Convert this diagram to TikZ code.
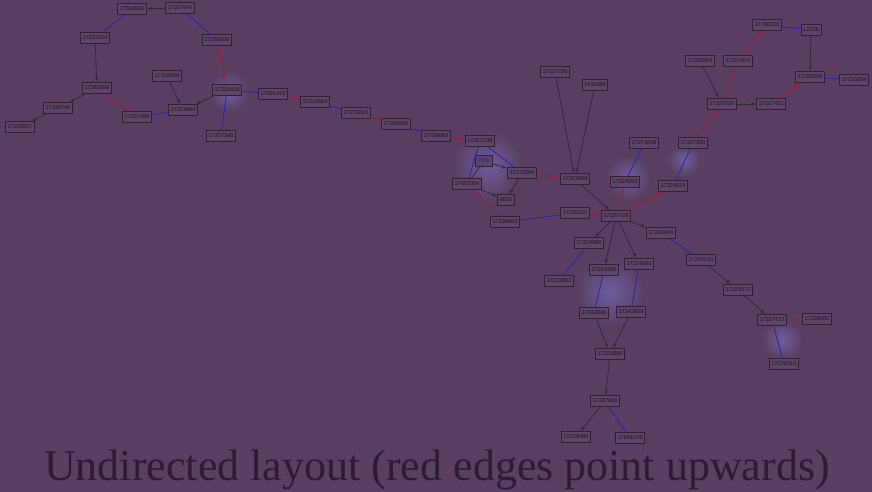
\documentclass[tikz,border=0pt]{standalone}
\usepackage{fontspec}
\setmainfont{Liberation Serif}
\newfontfamily\labfont{Liberation Sans}
\usetikzlibrary{arrows.meta}
\definecolor{bg}{HTML}{5A3F62}
\definecolor{nodefill}{HTML}{5F4567}
\definecolor{nodeline}{HTML}{2E1F34}
\definecolor{txt}{HTML}{1E1024}
\definecolor{titlec}{HTML}{2D1A35}
\definecolor{rededge}{HTML}{9C1C48}
\definecolor{blueedge}{HTML}{2C25A8}
\definecolor{darkedge}{HTML}{36263C}
\definecolor{glow}{HTML}{6C5E9E}
\definecolor{hltxt}{HTML}{2A2090}
\tikzset{
  nd/.style={draw=nodeline, line width=0.9pt, fill=nodefill, text=txt,
    font=\labfont\fontsize{5.6}{6}\selectfont, inner xsep=2.2pt, inner ysep=0pt,
    minimum height=11pt},
  darr/.style={draw=darkedge, line width=0.8pt, -{Latex[length=4.5pt,width=3.6pt]}},
  dline/.style={draw=darkedge, line width=0.8pt},
  rarr/.style={draw=rededge, line width=0.9pt, -{Latex[length=5pt,width=4pt]}},
  bline/.style={draw=blueedge, line width=0.9pt},
  glowc/.style={inner color=glow, outer color=bg}
}
\begin{document}
\begin{tikzpicture}[x=1pt,y=-1pt]
\fill[bg] (0,0) rectangle (872,492);
\useasboundingbox (0,0) rectangle (872,492);
% glows
\shade[glowc] (229,92) circle (20);
\shade[glowc] (488,165) circle (34);
\shade[glowc] (628,178) circle (22);
\shade[glowc] (684,160) circle (16);
\shade[glowc] (610,292) circle (34);
\shade[glowc] (782,340) circle (20);
% nodes top-left
\node[nd] (n17550536) at (132,9) {17550536};
\node[nd] (n17337644) at (180,8) {17337644};
\node[nd] (n17237324) at (95,38) {17237324};
\node[nd] (n17260200) at (217,40) {17260200};
\node[nd] (n17319368) at (167,76) {17319368};
\node[nd] (n17383998) at (97,88) {17383998};
\node[nd] (n17213416) at (227,90) {17213416};
\node[nd] (n17336740) at (58,108) {17336740};
\node[nd] (n17227864) at (183,110) {17227864};
\node[nd] (n17237496) at (137,117) {17237496};
\node[nd] (n17228557) at (20,127) {17228557};
\node[nd] (n17227348) at (221,136) {17227348};
% chain
\node[nd] (n17591472) at (273,94) {17591472};
\node[nd] (n17210664) at (315,102) {17210664};
\node[nd] (n17273616) at (356,113) {17273616};
\node[nd] (n17208256) at (396,124) {17208256};
\node[nd] (n17788068) at (436,136) {17788068};
% center
\node[nd] (n17337256) at (555,72) {17337256};
\node[nd] (n1411088) at (595,85) {1411088};
\node[nd] (n17327108) at (480,141) {17327108};
\node[nd, text=hltxt] (n7568) at (484,161) {7568};
\node[nd] (n17272584) at (522,173) {17272584};
\node[nd] (n17223908) at (575,179) {17223908};
\node[nd] (n17657004) at (467,184) {17657004};
\node[nd] (n8020) at (506,200) {8020};
\node[nd] (n17225112) at (575,213) {17225112};
\node[nd] (n17337428) at (616,216) {17337428};
\node[nd] (n17326592) at (505,222) {17326592};
\node[nd] (n17224252) at (625,182) {17224252};
% right
\node[nd] (n17786520) at (767,25) {17786520};
\node[nd] (n12728) at (811,30) {12728};
\node[nd] (n17325904) at (700,61) {17325904};
\node[nd] (n17327624) at (738,61) {17327624};
\node[nd] (n17255556) at (810,77) {17255556};
\node[nd] (n17230184) at (854,80) {17230184};
\node[nd] (n17330720) at (722,104) {17330720};
\node[nd] (n17327452) at (771,104) {17327452};
\node[nd] (n17274648) at (644,143) {17274648};
\node[nd] (n17327280) at (693,143) {17327280};
\node[nd] (n17224624) at (673,186) {17224624};
% lower
\node[nd] (n17224080) at (589,243) {17224080};
\node[nd] (n17224940) at (661,233) {17224940};
\node[nd] (n17224596) at (639,264) {17224596};
\node[nd] (n17224760) at (604,270) {17224760};
\node[nd] (n17232652) at (559,281) {17232652};
\node[nd] (n17243000) at (594,313) {17243000};
\node[nd] (n17242828) at (631,312) {17242828};
\node[nd] (n17225800) at (610,354) {17225800};
\node[nd] (n17337600) at (605,401) {17337600};
\node[nd] (n17226480) at (576,437) {17226480};
\node[nd] (n17691576) at (630,438) {17691576};
\node[nd] (n17242140) at (701,260) {17242140};
\node[nd] (n17225972) at (738,290) {17225972};
\node[nd] (n17337772) at (772,320) {17337772};
\node[nd] (n17226660) at (817,319) {17226660};
\node[nd] (n17226316) at (784,364) {17226316};
% dark arrows
\draw[darr] (n17337644) -- (n17550536);
\draw[darr] (n17237324) -- (n17383998);
\draw[darr] (n17319368) -- (n17227864);
\draw[darr] (n17213416) -- (n17227864);
\draw[darr] (n17383998) -- (n17336740);
\draw[darr] (n17336740) -- (n17228557);
\draw[darr] (n17337256) -- (n17223908);
\draw[darr] (n1411088) -- (n17223908);
\draw[darr] (n7568) -- (n17272584);
\draw[dline] (n7568) -- (n17657004);
\draw[darr] (n17272584) -- (n8020);
\draw[darr] (n17657004) -- (n8020);
\draw[darr] (n17223908) -- (n17337428);
\draw[darr] (n17337428) -- (n17224080);
\draw[darr] (n17337428) -- (n17224760);
\draw[darr] (n17337428) -- (n17224596);
\draw[darr] (n17337428) -- (n17224940);
\draw[darr] (n17243000) -- (n17225800);
\draw[darr] (n17242828) -- (n17225800);
\draw[darr] (n17225800) -- (n17337600);
\draw[darr] (n17337600) -- (n17226480);
\draw[darr] (n17242140) -- (n17225972);
\draw[darr] (n17225972) -- (n17337772);
\draw[darr] (n12728) -- (n17255556);
\draw[darr] (n17325904) -- (n17330720);
\draw[darr] (n17330720) -- (n17327452);
% red arrows
\draw[rarr] (n17213416) -- (n17260200);
\draw[rarr] (n17237496) -- (n17383998);
\draw[rarr] (n17210664) -- (n17591472);
\draw[rarr] (n17208256) -- (n17273616);
\draw[rarr] (n17327108) -- (n17788068);
\draw[rarr] (n17223908) -- (n17272584);
\draw[rarr] (n17326592) -- (n17657004);
\draw[rarr] (n17337428) -- (n17225112);
\draw[rarr] (n17337428) -- (n17224252);
\draw[rarr] (n17337428) -- (n17224624);
\draw[rarr] (n17327280) -- (n17330720);
\draw[rarr] (n17330720) -- (n17327624);
\draw[rarr] (n17327624) -- (n17786520);
\draw[rarr] (n17327452) -- (n17255556);
\draw[rarr] (n17337772) -- (n17226660);
% blue lines
\draw[bline] (n17550536) -- (n17237324);
\draw[bline] (n17337644) -- (n17260200);
\draw[bline] (n17237496) -- (n17227864);
\draw[bline] (n17213416) -- (n17227348);
\draw[bline] (n17213416) -- (n17591472);
\draw[bline] (n17210664) -- (n17273616);
\draw[bline] (n17208256) -- (n17788068);
\draw[bline] (n17327108) -- (n17272584);
\draw[bline] (n17327108) -- (n17657004);
\draw[bline] (n17326592) -- (n17225112);
\draw[bline] (n17274648) -- (n17224252);
\draw[bline] (n17327280) -- (n17224624);
\draw[bline] (n17786520) -- (n12728);
\draw[bline] (n17255556) -- (n17230184);
\draw[bline] (n17224080) -- (n17232652);
\draw[bline] (n17224760) -- (n17243000);
\draw[bline] (n17224596) -- (n17242828);
\draw[bline] (n17224940) -- (n17242140);
\draw[bline] (n17337600) -- (n17691576);
\draw[bline] (n17337772) -- (n17226316);
% title
\node[text=titlec, font=\fontsize{44}{48}\selectfont, anchor=base, inner sep=0pt] (title) at (437,480) {Undirected layout (red edges point upwards)};
\end{tikzpicture}
\end{document}
